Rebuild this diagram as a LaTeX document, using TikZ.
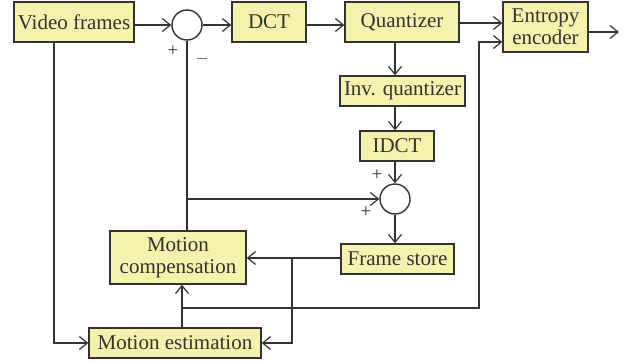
\documentclass[tikz,border=0pt]{standalone}
\usepackage{fontspec}
\setmainfont{Liberation Serif}
\usetikzlibrary{arrows.meta}
\definecolor{boxfill}{RGB}{246,241,172}
\definecolor{ink}{RGB}{51,51,51}
\begin{document}
\begin{tikzpicture}[x=1pt,y=-1pt,
  blk/.style={draw=ink,line width=1.4pt,fill=boxfill,inner sep=0pt,align=center,
     font=\fontsize{21}{22}\selectfont,text=ink},
  sum/.style={draw=ink,line width=1.4pt,circle,minimum size=30pt,inner sep=0pt},
  arr/.style={-{Straight Barb[length=8pt,width=13pt,line width=1.2pt]}},
  ln/.style={draw=ink,line width=1.2pt},
  sgn/.style={font=\fontsize{19}{19}\selectfont,text=ink,inner sep=0pt}]
\useasboundingbox (0,0) rectangle (624,362);
\node[blk,minimum width=120pt,minimum height=40pt] (vf) at (74,22) {Video frames};
\node[sum] (s1) at (187,25) {};
\node[blk,minimum width=74pt,minimum height=40pt] (dct) at (269,22) {DCT};
\node[blk,minimum width=114pt,minimum height=40pt] (q) at (402,22) {Quantizer};
\node[blk,minimum width=85pt,minimum height=50pt] (ee) at (545.5,27) {Entropy\\encoder};
\node[blk,minimum width=125pt,minimum height=30pt] (iq) at (402.5,91) {Inv. quantizer};
\node[blk,minimum width=74pt,minimum height=30pt] (idct) at (397,146) {IDCT};
\node[sum] (s2) at (395,199) {};
\node[blk,minimum width=113pt,minimum height=30pt] (fs) at (397.5,259) {Frame store};
\node[blk,minimum width=136pt,minimum height=53pt] (mc) at (178,257.5) {Motion\\compensation};
\node[blk,minimum width=172pt,minimum height=30pt] (me) at (175,343) {Motion estimation};
\coordinate (out) at (619,32);
\coordinate (bfs) at (292,258);
\coordinate (bme) at (182,308);
\coordinate (bmc) at (187,199);
\coordinate (vfd) at (54,343);
\coordinate (eeup) at (479,42);
\node[sgn] (p1) at (173,51) {+};
\node[sgn] (m1) at (202,59) {$-$};
\node[sgn] (p2) at (377,175) {+};
\node[sgn] (p3) at (366,212) {+};
\begin{scope}[ln]
\draw[arr] (vf.east |- s1) -- (s1.west);
\draw[arr] (s1.east) -- (s1.east -| dct.west);
\draw[arr] (dct.east |- s1) -- (q.west |- s1);
\draw[arr] (q.east |- 0,23) -- (ee.west |- 0,23);
\draw[arr] (ee.east |- out) -- (out);
\draw[arr] (q.south -| s2) -- (iq.north -| s2);
\draw[arr] (iq.south -| s2) -- (idct.north -| s2);
\draw[arr] (idct.south -| s2) -- (s2.north);
\draw[arr] (s2.south) -- (fs.north -| s2);
\draw[arr] (fs.west |- bfs) -- (mc.east |- bfs);
\draw[arr] (bfs) -- (bfs |- me) -- (me.east);
\draw[arr] (vf.south -| vfd) -- (vfd) -- (me.west);
\draw[arr] (me.north -| bme) -- (mc.south -| bme);
\draw[arr] (bme) -- (bme -| eeup) -- (eeup) -- (ee.west |- eeup);
\draw (mc.north -| s1) -- (s1.south);
\draw[arr] (bmc) -- (s2.west);
\end{scope}
\end{tikzpicture}
\end{document}
